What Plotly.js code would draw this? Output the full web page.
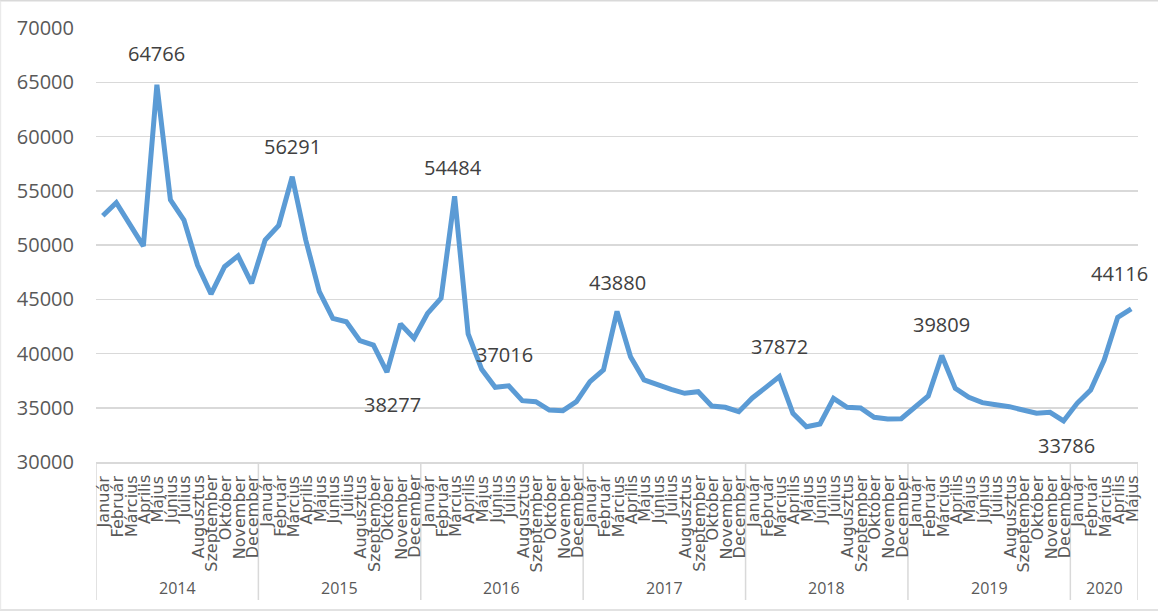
<!DOCTYPE html>
<html>
<head>
<meta charset="utf-8">
<script src="https://cdn.plot.ly/plotly-3.0.1.min.js"></script>
<style>html,body{margin:0;padding:0;background:#fff;}#chart{width:1158px;height:613px;}</style>
</head>
<body>
<div id="chart"></div>
<script>
const years = ["2014","2015","2016","2017","2018","2019","2020"];
const monthsPerYear = [12,12,12,12,12,12,5];
const monthNames = ["Január","Február","Március","Április","Május","Június","Július","Augusztus","Szeptember","Október","November","December"];
const values = [
  52700, 53900, 51900, 49900, 64766, 54150, 52300, 48150, 45480, 48000, 49000, 46470,
  50460, 51800, 56291, 50460, 45700, 43240, 42930, 41180, 40780, 38277, 42720, 41400,
  43700, 45090, 54484, 41800, 38540, 36880, 37016, 35650, 35560, 34790, 34730, 35560,
  37400, 38480, 43880, 39700, 37560, 37100, 36700, 36330, 36480, 35160, 35040, 34640,
  35900, 36880, 37872, 34490, 33250, 33500, 35870, 35040, 34980, 34120, 33960, 33990,
  35040, 36080, 39809, 36790, 35960, 35470, 35280, 35100, 34790, 34490, 34580, 33786,
  35410, 36640, 39400, 43340, 44116
];
const labelIdx = [4, 14, 26, 21, 30, 38, 50, 62, 71, 76];
const labelShiftY = [31, 30, 29, -32, 31, 29, 30, 31, -25, 35];
const labelShiftX = [0, 0, -2, 6, -4, 0, 0, 0, 3, -12];

const xs = values.map((v, i) => i);
const tickText = [];
years.forEach((y, yi) => { for (let m = 0; m < monthsPerYear[yi]; m++) tickText.push(monthNames[m]); });

const gridCol = "#d9d9d9";
const shapes = [];
const annotations = [];
let start = 0;
shapes.push({type:"line", xref:"x", yref:"paper", x0:-0.5, x1:-0.5, y0:0, y1:-0.318, line:{color:gridCol, width:1.5}});
years.forEach((y, yi) => {
  const n = monthsPerYear[yi];
  const end = start + n - 1;
  shapes.push({type:"line", xref:"x", yref:"paper", x0:end+0.5, x1:end+0.5, y0:0, y1:-0.318, line:{color:gridCol, width:1.5}});
  annotations.push({xref:"x", yref:"paper", x:(start+end)/2, y:-0.291, text:y, showarrow:false,
    font:{family:"Open Sans", size:16, color:"#595959"}, xanchor:"center", yanchor:"middle"});
  start += n;
});
tickText.forEach((t, i) => {
  annotations.push({xref:"x", yref:"paper", x:xs[i], y:-0.028, text:t, showarrow:false, textangle:-90,
    font:{family:"DejaVu Sans", size:16, color:"#595959"}, xanchor:"center", yanchor:"top",
    borderpad:0, xshift:1});
});
shapes.push({type:"line", xref:"paper", yref:"paper", x0:-0.2, x1:1.1, y0:1.063, y1:1.063, line:{color:"#d9d9d9", width:1.5}});
shapes.push({type:"line", xref:"paper", yref:"paper", x0:-0.2, x1:1.1, y0:-0.341, y1:-0.341, line:{color:"#d9d9d9", width:1.5}});
shapes.push({type:"line", xref:"paper", yref:"paper", x0:-0.0915, x1:-0.0915, y0:-0.341, y1:1.063, line:{color:"#e6e6e6", width:1}});

labelIdx.forEach((idx, k) => {
  annotations.push({x: idx, y: values[idx], xref:"x", yref:"y", text:String(values[idx]), showarrow:false,
    yshift: labelShiftY[k], xshift: labelShiftX[k],
    font:{family:"Open Sans", size:20, color:"#404040"}, xanchor:"center", yanchor:"middle"});
});

const trace = {
  x: xs, y: values, type:"scatter", mode:"lines",
  line:{color:"#5b9bd5", width:5, shape:"linear"},
  hoverinfo:"y"
};

const layout = {
  width:1158, height:613,
  margin:{l:96, r:20, t:28, b:151},
  paper_bgcolor:"#ffffff", plot_bgcolor:"#ffffff",
  showlegend:false,
  xaxis:{
    range:[-0.5, values.length - 0.5],
    showticklabels:false, ticks:"", showgrid:false, zeroline:false,
    showline:true, linecolor:gridCol, linewidth:1.5, fixedrange:true
  },
  yaxis:{
    range:[30000, 70000], dtick:5000, tick0:30000, tickformat:"d",
    showgrid:true, gridcolor:gridCol, gridwidth:1.5,
    zeroline:false, showline:false, ticks:"",
    tickfont:{family:"Open Sans", size:20, color:"#595959"},
    ticklabelstandoff:21, fixedrange:true
  },
  shapes: shapes,
  annotations: annotations
};

Plotly.newPlot("chart", [trace], layout, {displayModeBar:false, staticPlot:true});
</script>
</body>
</html>
